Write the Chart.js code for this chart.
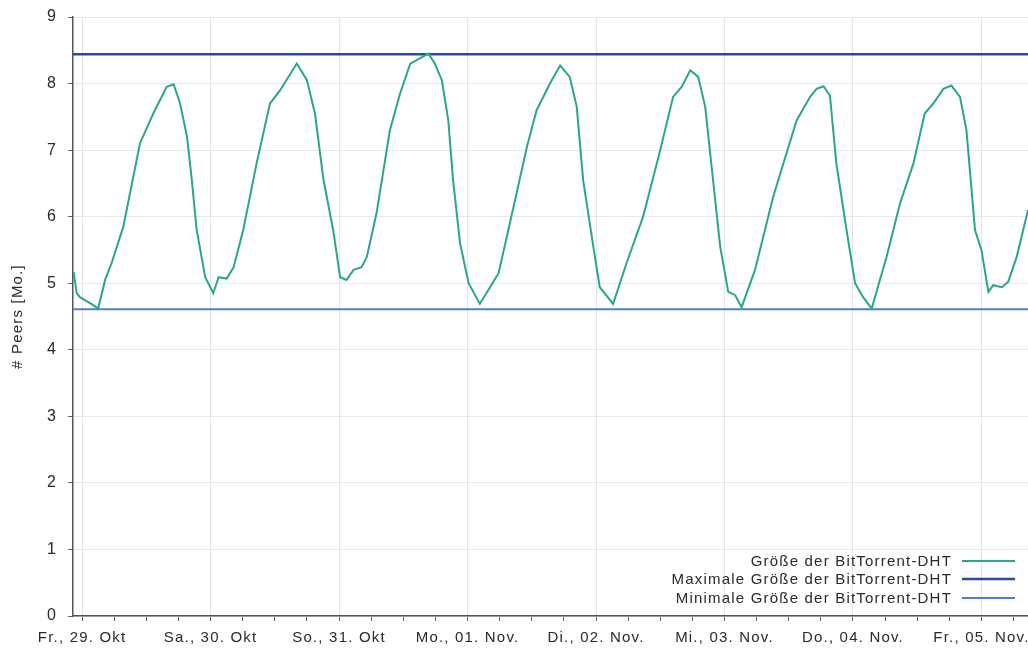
<!DOCTYPE html>
<html>
<head>
<meta charset="utf-8">
<script src="https://cdn.jsdelivr.net/npm/chart.js@4"></script>
<style>
  html, body { margin: 0; padding: 0; background: #fff; }
  #wrap { width: 1028px; height: 651px; }
</style>
</head>
<body>
<div id="wrap"><canvas id="chart"></canvas></div>
<script>
// hours since Fr., 29. Okt 00:00
const hours = [
  -1.6, -1.0, -0.4, 2.1, 3.0, 4.3, 5.5, 7.7, 10.8, 13.3, 15.8, 17.1, 18.3, 19.6, 20.5, 21.4,
  23.0, 24.5, 25.5, 27.0, 28.3, 30.1, 32.6, 35.1, 37.0, 40.1, 42.0, 43.5, 45.1, 46.9,
  48.2, 49.4, 50.7, 52.2, 53.2, 55.0, 57.5, 59.4, 61.3, 63.1, 64.7, 65.9, 67.2, 68.4,
  69.3, 70.6, 72.2, 74.3, 76.2, 77.8, 80.6, 83.1, 84.9, 87.4, 89.3, 91.1, 92.4, 93.6,
  95.5, 96.7, 99.2, 101.7, 104.8, 108.0, 110.4, 112.0, 113.6, 115.1, 116.4, 117.6, 119.2,
  120.7, 122.0, 123.2, 125.7, 129.1, 131.0, 133.5, 136.0, 137.2, 138.5, 139.7, 140.9,
  142.8, 144.4, 145.9, 147.5, 150.3, 152.8, 155.3, 157.4, 159.0, 160.9, 162.4, 164.0,
  165.2, 166.8, 168.0, 169.3, 170.2, 171.8, 173.0, 174.6, 176.7
]
// peers in millions
const peers = [
  5.17, 4.85, 4.79, 4.67, 4.62, 5.05, 5.30, 5.85, 7.10, 7.55, 7.95, 7.99, 7.70, 7.20, 6.55, 5.80,
  5.09, 4.85, 5.09, 5.07, 5.24, 5.80, 6.80, 7.70, 7.90, 8.30, 8.05, 7.55, 6.55, 5.80,
  5.09, 5.05, 5.20, 5.24, 5.40, 6.05, 7.30, 7.85, 8.30, 8.38, 8.45, 8.30, 8.05, 7.45,
  6.55, 5.60, 5.00, 4.69, 4.94, 5.15, 6.15, 7.05, 7.60, 8.00, 8.27, 8.10, 7.65, 6.55,
  5.55, 4.94, 4.69, 5.30, 6.00, 7.00, 7.80, 7.95, 8.20, 8.10, 7.65, 6.75, 5.55,
  4.87, 4.82, 4.64, 5.20, 6.30, 6.80, 7.45, 7.80, 7.92, 7.96, 7.82, 6.80,
  5.80, 5.00, 4.79, 4.62, 5.40, 6.20, 6.80, 7.55, 7.70, 7.92, 7.97, 7.80,
  7.30, 5.80, 5.50, 4.87, 4.97, 4.94, 5.02, 5.40, 6.10
]
const maxPeers = 8.44
const minPeers = 4.61
const dayLabels = [
  'Fr., 29. Okt', 'Sa., 30. Okt', 'So., 31. Okt', 'Mo., 01. Nov.',
  'Di., 02. Nov.', 'Mi., 03. Nov.', 'Do., 04. Nov.', 'Fr., 05. Nov.'
]
const seriesNames = [
  'Größe der BitTorrent-DHT',
  'Maximale Größe der BitTorrent-DHT',
  'Minimale Größe der BitTorrent-DHT'
]
const xMin = -1.7
const xMax = 176.7

const FONT = '"Liberation Sans", Arial, sans-serif'

// the original text is set quite wide, so widen letters a bit
const spacingPlugin = {
  id: 'spacing',
  beforeLayout(chart) { chart.ctx.letterSpacing = '1.2px' },
  beforeDraw(chart) { chart.ctx.letterSpacing = '1.2px' },
}

// legend drawn bottom-right inside the plot, text left of the line sample
const legendPlugin = {
  id: 'innerLegend',
  afterDraw(chart) {
    const { ctx, chartArea } = chart
    const sets = chart.data.datasets
    ctx.save()
    ctx.font = '15px ' + FONT
    ctx.textAlign = 'right'
    ctx.textBaseline = 'middle'
    const offs = [55, 37, 18]
    sets.forEach((ds, i) => {
      const y = chartArea.bottom - offs[i]
      ctx.fillStyle = '#2a2a2a'
      ctx.fillText(ds.label, chartArea.right - 76, y + 1)
      ctx.strokeStyle = ds.borderColor
      ctx.lineWidth = ds.borderWidth
      ctx.beginPath()
      ctx.moveTo(chartArea.right - 66, y)
      ctx.lineTo(chartArea.right - 13, y)
      ctx.stroke()
    })
    ctx.restore()
  }
}

const ctx = document.getElementById('chart').getContext('2d')

new Chart(ctx, {
  type: 'line',
  data: {
    datasets: [
      {
        label: seriesNames[0],
        data: hours.map((h, i) => ({ x: h, y: peers[i] })),
        borderColor: '#2ba68e',
        borderWidth: 2,
        pointRadius: 0,
        tension: 0,
        order: 0,
      },
      {
        label: seriesNames[1],
        data: [{ x: xMin, y: maxPeers }, { x: xMax, y: maxPeers }],
        borderColor: '#2a4b9b',
        borderWidth: 2.5,
        pointRadius: 0,
        order: 1,
      },
      {
        label: seriesNames[2],
        data: [{ x: xMin, y: minPeers }, { x: xMax, y: minPeers }],
        borderColor: '#4f7fcc',
        borderWidth: 2,
        pointRadius: 0,
        order: 2,
      },
    ],
  },
  options: {
    responsive: true,
    maintainAspectRatio: false,
    animation: false,
    layout: { padding: { top: 17, right: 0, left: 0, bottom: 0 } },
    plugins: {
      legend: { display: false },
      tooltip: { enabled: false },
    },
    scales: {
      x: {
        type: 'linear',
        min: xMin,
        max: xMax,
        afterBuildTicks(scale) {
          const ticks = []
          for (let h = 0; h <= xMax; h += 6) ticks.push({ value: h })
          scale.ticks = ticks
        },
        afterFit(scale) {
          scale.height = 35
        },
        ticks: {
          autoSkip: false,
          maxRotation: 0,
          color: '#2a2a2a',
          font: { family: FONT, size: 15 },
          padding: 8,
          callback: (v) => (v % 24 === 0 ? dayLabels[v / 24] : ''),
        },
        grid: {
          color: (c) => (c.tick && c.tick.value % 24 === 0 ? '#e4e4e4' : 'rgba(0,0,0,0)'),
          tickColor: '#666',
          tickLength: 5,
        },
        border: { color: '#555', width: 1.5 },
      },
      y: {
        min: 0,
        max: 9,
        ticks: {
          stepSize: 1,
          color: '#2a2a2a',
          font: { family: FONT, size: 16 },
          padding: 11,
        },
        afterFit(scale) {
          scale.width = 73
          scale.paddingTop = 0
          scale.paddingBottom = 0
        },
        title: {
          display: true,
          text: '# Peers [Mo.]',
          color: '#2a2a2a',
          font: { family: FONT, size: 15 },
          padding: { top: 9, bottom: 0 },
        },
        grid: {
          color: '#e8e8e8',
          tickColor: '#666',
          tickLength: 5,
        },
        border: { color: '#555', width: 1.5 },
      },
    },
  },
  plugins: [spacingPlugin, legendPlugin],
})
</script>
</body>
</html>
